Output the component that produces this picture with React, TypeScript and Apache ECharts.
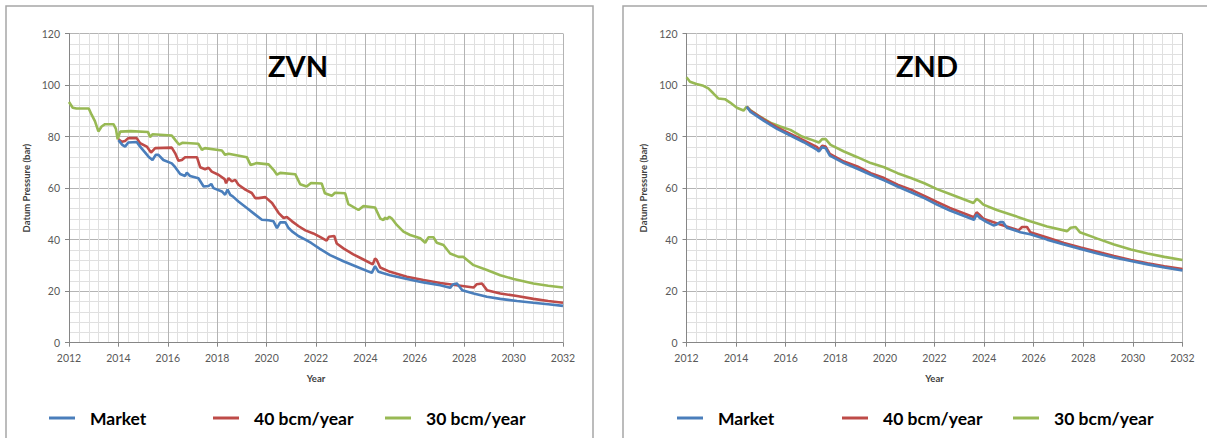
import React, { useEffect, useRef } from "react";
import * as echarts from "echarts";

// ---------- data ----------
const panelTitles = ["ZVN", "ZND"];
const seriesNames = ["Market", "40 bcm/year", "30 bcm/year"];
const yTicks = [0, 20, 40, 60, 80, 100, 120];
const xYears = [2012, 2014, 2016, 2018, 2020, 2022, 2024, 2026, 2028, 2030, 2032];

const zvnMarket = [
  [2014.0, 78.6], [2014.16, 76.8], [2014.27, 76.1], [2014.4, 77.7], [2014.74, 77.9], [2014.88, 76.1],
  [2015.22, 72.2], [2015.38, 70.9], [2015.51, 72.9], [2015.62, 72.9], [2015.82, 70.9], [2016.16, 69.6],
  [2016.3, 68.1], [2016.5, 65.5], [2016.7, 64.7], [2016.77, 66], [2016.9, 64.7], [2017.24, 63.8],
  [2017.45, 60.6], [2017.65, 60.8], [2017.76, 61.6], [2017.85, 60], [2018.19, 58.7], [2018.32, 57.4],
  [2018.42, 59.4], [2018.53, 57.4], [2018.63, 56.8], [2018.86, 54.8], [2019.2, 52.3], [2019.54, 49.7],
  [2019.81, 47.7], [2020.08, 47.5], [2020.28, 47.1], [2020.42, 44.5], [2020.55, 46.7], [2020.76, 46.7],
  [2020.89, 44.5], [2021.03, 43.2], [2021.3, 41.3], [2021.57, 40], [2021.82, 38.6], [2022.16, 36.4],
  [2022.57, 34], [2023.11, 31.6], [2023.65, 29.5], [2024.26, 27.1], [2024.39, 29.7], [2024.53, 27.5],
  [2025.0, 26.2], [2025.68, 24.7], [2026.35, 23.4], [2027.03, 22.3], [2027.43, 21.3], [2027.54, 22.6],
  [2027.7, 23], [2027.81, 21.7], [2027.92, 20.4], [2028.38, 19.1], [2028.92, 17.8], [2029.46, 17],
  [2030.14, 16.2], [2030.8, 15.5], [2031.4, 14.9], [2032, 14.3],
];
const zvn40 = [
  [2014.0, 78.9], [2014.14, 78], [2014.27, 78.3], [2014.4, 79.4], [2014.74, 79.4], [2014.88, 77.4],
  [2015.15, 76.1], [2015.32, 73.8], [2015.49, 75.5], [2016.16, 75.7], [2016.3, 73.5], [2016.43, 70.6],
  [2016.57, 70.9], [2016.7, 72], [2017.18, 72], [2017.31, 68.1], [2017.51, 67.3], [2017.65, 67.9],
  [2017.78, 66.4], [2018.05, 65.2], [2018.3, 63.5], [2018.36, 61.9], [2018.46, 63.9], [2018.59, 62.6],
  [2018.73, 63.2], [2018.86, 61.3], [2019.14, 59.4], [2019.4, 58.1], [2019.54, 56.1], [2019.68, 56.1],
  [2019.95, 56.5], [2020.22, 54.2], [2020.49, 50.3], [2020.69, 48.4], [2020.82, 48.8], [2021.03, 47.1],
  [2021.3, 45.2], [2021.57, 43.6], [2021.89, 42.4], [2022.16, 41.1], [2022.43, 39.6], [2022.52, 41.1],
  [2022.74, 41.4], [2022.84, 38.5], [2023.11, 36.6], [2023.51, 34.3], [2023.92, 32.3], [2024.3, 30.4],
  [2024.39, 32.7], [2024.46, 32.1], [2024.6, 29.2], [2025.0, 27.5], [2025.68, 25.6], [2026.35, 24.3],
  [2027.03, 23.2], [2027.7, 22.3], [2028.38, 21.4], [2028.51, 22.7], [2028.72, 23], [2028.92, 20.4],
  [2029.46, 19.1], [2030.14, 18.1], [2030.8, 17], [2031.4, 16.2], [2032, 15.5],
];
const zvn30 = [
  [2012.0, 93.4], [2012.15, 91.2], [2012.3, 90.9], [2012.8, 90.9], [2012.92, 88.4], [2013.05, 86],
  [2013.19, 82], [2013.32, 83.9], [2013.46, 84.8], [2013.8, 84.8], [2013.9, 83], [2013.97, 78.9],
  [2014.07, 81.9], [2014.5, 82.1], [2015.2, 81.8], [2015.28, 79.8], [2015.38, 80.9], [2016.16, 80.4],
  [2016.3, 78.7], [2016.45, 76.9], [2016.6, 77.6], [2017.24, 77.2], [2017.38, 74.8], [2017.5, 75.5],
  [2018.19, 74.6], [2018.32, 72.9], [2018.46, 73.3], [2019.2, 72], [2019.35, 69], [2019.6, 69.7],
  [2020.08, 69.2], [2020.28, 67.1], [2020.42, 65.2], [2020.55, 65.9], [2021.16, 65.4], [2021.36, 61.5],
  [2021.62, 60.6], [2021.8, 62], [2022.23, 61.8], [2022.36, 58], [2022.64, 57], [2022.77, 58.2],
  [2023.18, 58], [2023.31, 53.8], [2023.72, 51.5], [2023.92, 53], [2024.39, 52.5], [2024.6, 48.2],
  [2024.73, 47.6], [2024.8, 48.6], [2024.86, 47.9], [2024.97, 48.9], [2025.07, 48.2], [2025.27, 45.7],
  [2025.54, 43.1], [2025.81, 41.8], [2026.22, 40.5], [2026.42, 38.8], [2026.55, 40.9], [2026.76, 40.9],
  [2026.89, 38.8], [2027.16, 37.9], [2027.43, 34.6], [2027.77, 33.3], [2027.97, 33.3], [2028.38, 30.1],
  [2028.92, 28.2], [2029.46, 26.2], [2030.0, 24.7], [2030.8, 23], [2031.4, 22.1], [2032, 21.4],
];

const zndMarket = [
  [2014.43, 91.6], [2014.57, 89.7], [2015.11, 86.2], [2015.65, 83], [2016.19, 80.4], [2016.73, 77.8],
  [2017.27, 74.8], [2017.34, 74.2], [2017.47, 75.9], [2017.61, 75.5], [2017.78, 72.6], [2018.35, 69.7],
  [2018.89, 67.5], [2019.43, 65.2], [2019.97, 63], [2020.51, 60.6], [2021.05, 58.4], [2021.59, 56.1],
  [2022.1, 53.6], [2022.62, 51.3], [2023.59, 47.7], [2023.7, 49.7], [2023.84, 48.3], [2024.11, 46.8],
  [2024.38, 45.5], [2024.51, 45.9], [2024.65, 46.8], [2024.76, 46.8], [2024.92, 44.6], [2025.46, 42.9],
  [2025.86, 42.1], [2026.54, 40], [2027.22, 38.1], [2027.89, 36.4], [2028.57, 34.6], [2029.24, 33.1],
  [2029.92, 31.7], [2030.59, 30.4], [2031.27, 29.2], [2032, 28],
];
const znd40 = [
  [2014.43, 91.6], [2014.57, 90.1], [2015.11, 86.7], [2015.65, 83.6], [2016.19, 81], [2016.73, 78.5],
  [2017.27, 75.9], [2017.34, 74.8], [2017.47, 76.4], [2017.61, 76.1], [2017.78, 73.3], [2018.35, 70.3],
  [2018.89, 68.4], [2019.43, 65.8], [2019.97, 63.9], [2020.51, 61.3], [2021.05, 59.4], [2021.59, 57],
  [2022.1, 54.6], [2022.62, 52.3], [2023.59, 48.7], [2023.7, 50.6], [2023.81, 49.7], [2023.97, 48.1],
  [2024.65, 45.9], [2025.39, 43.6], [2025.53, 44.9], [2025.73, 44.9], [2025.86, 42.9], [2026.54, 40.8],
  [2027.22, 38.7], [2027.89, 36.9], [2028.57, 35.3], [2029.24, 33.6], [2029.92, 32.1], [2030.59, 30.8],
  [2031.27, 29.7], [2032, 28.6],
];
const znd30 = [
  [2012.0, 103], [2012.14, 101.3], [2012.4, 100.4], [2012.68, 99.7], [2012.88, 98.7], [2013.08, 96.8],
  [2013.28, 94.8], [2013.55, 94.5], [2013.76, 93.2], [2014.03, 91.2], [2014.3, 90.1], [2014.43, 91.6],
  [2014.57, 90.3], [2014.97, 87.7], [2015.38, 85.4], [2015.78, 83.9], [2016.19, 82.6], [2016.66, 80],
  [2017.0, 78.9], [2017.34, 77.7], [2017.47, 79], [2017.61, 79], [2017.81, 76.8], [2018.35, 74.2],
  [2018.89, 72], [2019.43, 69.7], [2019.97, 68.1], [2020.51, 65.8], [2021.05, 63.9], [2021.59, 61.9],
  [2022.1, 59.6], [2022.62, 57.7], [2023.57, 54.2], [2023.7, 55.8], [2023.81, 55.1], [2023.97, 53.6],
  [2024.51, 51.5], [2025.19, 49.4], [2025.86, 47.1], [2026.54, 45.1], [2027.35, 43.3], [2027.49, 44.6],
  [2027.69, 44.9], [2027.86, 42.9], [2028.57, 40.4], [2029.24, 38.1], [2029.92, 36.2], [2030.59, 34.6],
  [2031.27, 33.3], [2032, 32.1],
];

const colors = ["#4A7EBB", "#BE4B48", "#98B954"];
const FONT = "Lato, 'Liberation Sans', sans-serif";

export default function App() {
  const ref = useRef<HTMLDivElement>(null);

  useEffect(() => {
    if (!ref.current) return;
    const chart = echarts.init(ref.current, undefined, { renderer: "svg" });

    const grids = [
      { left: 69, width: 494, top: 33.5, height: 309.2 },
      { left: 686.5, width: 496, top: 33.5, height: 309.2 },
    ];
    const panelData = [
      [zvnMarket, zvn40, zvn30],
      [zndMarket, znd40, znd30],
    ];

    const xAxes = grids.map((_, i) => ({
      type: "value",
      gridIndex: i,
      min: xYears[0],
      max: xYears[xYears.length - 1],
      interval: 2,
      name: "Year",
      nameLocation: "middle",
      nameGap: 31,
      nameTextStyle: { fontFamily: FONT, fontSize: 9.5, fontWeight: "bold", color: "#404040" },
      axisLine: { show: true, lineStyle: { color: "#868686", width: 1 } },
      axisTick: { show: true, length: 4, lineStyle: { color: "#868686" } },
      axisLabel: { fontFamily: FONT, fontSize: 10.5, color: "#595959", margin: 10, formatter: (v: number) => String(Math.round(v)) },
      splitLine: { show: true, lineStyle: { color: "#b4b4b4", width: 1 } },
      minorTick: { show: false, splitNumber: 5 },
      minorSplitLine: { show: true, lineStyle: { color: "#e0e0e0", width: 1 } },
    }));
    const yAxes = grids.map((_, i) => ({
      type: "value",
      gridIndex: i,
      min: yTicks[0],
      max: yTicks[yTicks.length - 1],
      interval: 20,
      name: "Datum Pressure (bar)",
      nameLocation: "middle",
      nameGap: 38,
      nameTextStyle: { fontFamily: FONT, fontSize: 9.5, fontWeight: "bold", color: "#404040" },
      axisLine: { show: true, lineStyle: { color: "#868686", width: 1 } },
      axisTick: { show: true, length: 4, lineStyle: { color: "#868686" } },
      axisLabel: { fontFamily: FONT, fontSize: 10.5, color: "#595959", margin: 9 },
      splitLine: { show: true, lineStyle: { color: "#b4b4b4", width: 1 } },
      minorTick: { show: false, splitNumber: 5 },
      minorSplitLine: { show: true, lineStyle: { color: "#e0e0e0", width: 1 } },
    }));

    const series: any[] = [];
    panelData.forEach((sets, p) => {
      sets.forEach((d, s) => {
        series.push({
          type: "line",
          name: seriesNames[s],
          xAxisIndex: p,
          yAxisIndex: p,
          data: d,
          showSymbol: false,
          symbol: "none",
          color: colors[s],
          lineStyle: { color: colors[s], width: 2.6 },
          z: 10 - s,
        });
      });
    });

    const legendLefts = [
      [49, 213, 385],
      [677, 842, 1013],
    ];
    const legends: any[] = [];
    legendLefts.forEach((row) => {
      row.forEach((lx, s) => {
        legends.push({
          data: [seriesNames[s]],
          left: lx,
          top: 409,
          padding: 0,
          icon: "rect",
          itemWidth: 26,
          itemHeight: 3,
          selectedMode: false,
          textStyle: { fontFamily: FONT, fontSize: 17.5, fontWeight: "bold", color: "#000", padding: [0, 0, 0, 10] },
        });
      });
    });

    chart.setOption({
      animation: false,
      backgroundColor: "#ffffff",
      grid: grids,
      xAxis: xAxes,
      yAxis: yAxes,
      legend: legends,
      series,
      graphic: [
        { type: "rect", shape: { x: 6, y: 6, width: 587, height: 450 }, style: { fill: "none", stroke: "#a6a6a6", lineWidth: 1.5 }, silent: true, z: -1 },
        { type: "rect", shape: { x: 623, y: 6, width: 600, height: 450 }, style: { fill: "none", stroke: "#a6a6a6", lineWidth: 1.5 }, silent: true, z: -1 },
        { type: "text", x: 298, y: 65, style: { text: panelTitles[0], font: `bold 29px ${FONT}`, fill: "#000", textAlign: "center", textVerticalAlign: "middle" }, z: 50 },
        { type: "text", x: 927, y: 65, style: { text: panelTitles[1], font: `bold 29px ${FONT}`, fill: "#000", textAlign: "center", textVerticalAlign: "middle" }, z: 50 },
      ],
    });

    return () => chart.dispose();
  }, []);

  return (
    <div
      ref={ref}
      style={{ position: "absolute", left: 0, top: 0, width: 1207, height: 438, background: "#fff" }}
    />
  );
}
